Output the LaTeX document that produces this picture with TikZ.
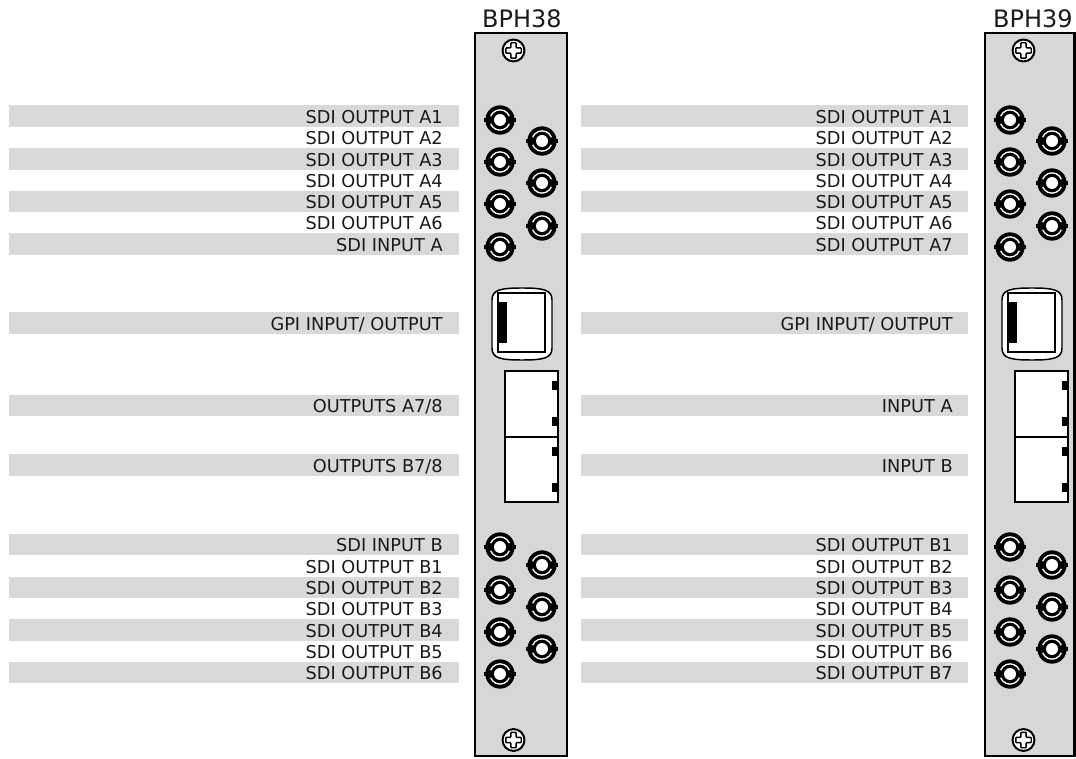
\documentclass[tikz,border=0pt]{standalone}
\usepackage{fontspec}
\setmainfont{DejaVu Sans}
\definecolor{bargray}{HTML}{D9D9D9}
\definecolor{panelgray}{HTML}{D7D7D7}
\definecolor{txt}{HTML}{1A1A1A}
\tikzset{
  lbl/.style={anchor=east, inner sep=0pt, font=\fontsize{13.3pt}{15pt}\selectfont, text=txt, text height=9.7pt, text depth=0pt},
  ttl/.style={inner sep=0pt, font=\fontsize{18pt}{21pt}\selectfont, text=txt, text height=13pt, text depth=0pt},
  bar/.style={fill=bargray},
  panelbox/.style={draw=black, line width=2.2pt, fill=panelgray},
  jackbox/.style={draw=black, line width=1.1pt, fill=white},
  bnc/.pic={
    \fill[black] (0,0) circle[radius=11pt];
    \fill[black] (-11.8pt,-1.6pt) rectangle (11.8pt,1.6pt);
    \draw[white, line width=1pt] (22:7.6pt) arc[start angle=22, end angle=158, radius=7.6pt];
    \draw[white, line width=1pt] (202:7.6pt) arc[start angle=202, end angle=338, radius=7.6pt];
    \fill[white] (0,0) circle[radius=4.5pt];
  },
  screw/.pic={
    \draw[line width=1.5pt, fill=white] (0,0) circle[radius=8.2pt];
    \draw[line width=1.1pt, fill=white, rounded corners=0.6pt]
      (-2pt,-5.8pt) -- (2pt,-5.8pt) -- (2pt,-2pt) -- (5.8pt,-2pt) -- (5.8pt,2pt) -- (2pt,2pt)
      -- (2pt,5.8pt) -- (-2pt,5.8pt) -- (-2pt,2pt) -- (-5.8pt,2pt) -- (-5.8pt,-2pt) -- (-2pt,-2pt) -- cycle;
  }
}
\begin{document}
\begin{tikzpicture}[x=0.75pt, y=-0.75pt]
\useasboundingbox (0,0) rectangle (1076,759);

% ---------- panels ----------
\foreach \ox/\rx [count=\p] in {0/567, 510/1074.5} {
  \draw[panelbox] (\ox+475,33) rectangle (\rx,756);
  \pic at (\ox+513.5,50.5) {screw};
  \pic at (\ox+513.5,740) {screw};
  % BNC connectors, top group
  \foreach \yy in {120,162,204,247} { \pic at (\ox+500,\yy) {bnc}; }
  \foreach \yy in {141,183,226} { \pic at (\ox+542,\yy) {bnc}; }
  % BNC connectors, bottom group
  \foreach \yy in {547,590,632,674} { \pic at (\ox+500,\yy) {bnc}; }
  \foreach \yy in {565,607,649} { \pic at (\ox+542,\yy) {bnc}; }
  % GPI connector
  \draw[line width=1.1pt, fill=white]
    (\ox+492,300) .. controls (\ox+492,290) and (\ox+500,288) .. (\ox+522,288)
    .. controls (\ox+544,288) and (\ox+552,290) .. (\ox+552,300)
    -- (\ox+552,348) .. controls (\ox+552,358) and (\ox+544,360) .. (\ox+522,360)
    .. controls (\ox+500,360) and (\ox+492,358) .. (\ox+492,348) -- cycle;
  \draw[line width=1.1pt, fill=white] (\ox+498,293) rectangle (\ox+545,352);
  \fill[black] (\ox+498,302) rectangle (\ox+507,343);
  % RJ45 pair
  \draw[jackbox] (\ox+505,371) rectangle (\ox+558,437);
  \draw[jackbox] (\ox+505,437) rectangle (\ox+558,502);
  \foreach \ty in {381,417,447,483} {
    \fill[black] (\ox+552,\ty) rectangle (\ox+558,\ty+9);
  }
}

% ---------- titles ----------
\node[ttl] (t38) at (522,18.5) {BPH38};
\node[ttl] (t39) at (1033,18.5) {BPH39};

% ---------- label rows, left ----------
\foreach \t [count=\k from 0] in {SDI OUTPUT A1,SDI OUTPUT A2,SDI OUTPUT A3,SDI OUTPUT A4,SDI OUTPUT A5,SDI OUTPUT A6,SDI INPUT A} {
  \pgfmathsetmacro\yy{105.5+21.3*\k}
  \ifodd\k\else \fill[bar] (9,\yy) rectangle (459,\yy+21.5); \fi
  \node[lbl] (la\k) at (443,\yy+11.5) {\t};
}
\foreach \t [count=\k from 0] in {SDI INPUT B,SDI OUTPUT B1,SDI OUTPUT B2,SDI OUTPUT B3,SDI OUTPUT B4,SDI OUTPUT B5,SDI OUTPUT B6} {
  \pgfmathsetmacro\yy{534+21.3*\k}
  \ifodd\k\else \fill[bar] (9,\yy) rectangle (459,\yy+21.5); \fi
  \node[lbl] (lb\k) at (443,\yy+11.5) {\t};
}
\foreach \yy/\t [count=\k] in {312.5/{GPI INPUT/ OUTPUT}, 395/{OUTPUTS A7/8}, 454.5/{OUTPUTS B7/8}} {
  \fill[bar] (9,\yy) rectangle (459,\yy+21.5);
  \node[lbl] (lm\k) at (443,\yy+11.5) {\t};
}

% ---------- label rows, right ----------
\foreach \t [count=\k from 0] in {SDI OUTPUT A1,SDI OUTPUT A2,SDI OUTPUT A3,SDI OUTPUT A4,SDI OUTPUT A5,SDI OUTPUT A6,SDI OUTPUT A7} {
  \pgfmathsetmacro\yy{105.5+21.3*\k}
  \ifodd\k\else \fill[bar] (581,\yy) rectangle (968,\yy+21.5); \fi
  \node[lbl] (ra\k) at (953,\yy+11.5) {\t};
}
\foreach \t [count=\k from 0] in {SDI OUTPUT B1,SDI OUTPUT B2,SDI OUTPUT B3,SDI OUTPUT B4,SDI OUTPUT B5,SDI OUTPUT B6,SDI OUTPUT B7} {
  \pgfmathsetmacro\yy{534+21.3*\k}
  \ifodd\k\else \fill[bar] (581,\yy) rectangle (968,\yy+21.5); \fi
  \node[lbl] (rb\k) at (953,\yy+11.5) {\t};
}
\foreach \yy/\t [count=\k] in {312.5/{GPI INPUT/ OUTPUT}, 395/{INPUT A}, 454.5/{INPUT B}} {
  \fill[bar] (581,\yy) rectangle (968,\yy+21.5);
  \node[lbl] (rm\k) at (953,\yy+11.5) {\t};
}
\end{tikzpicture}
\end{document}
